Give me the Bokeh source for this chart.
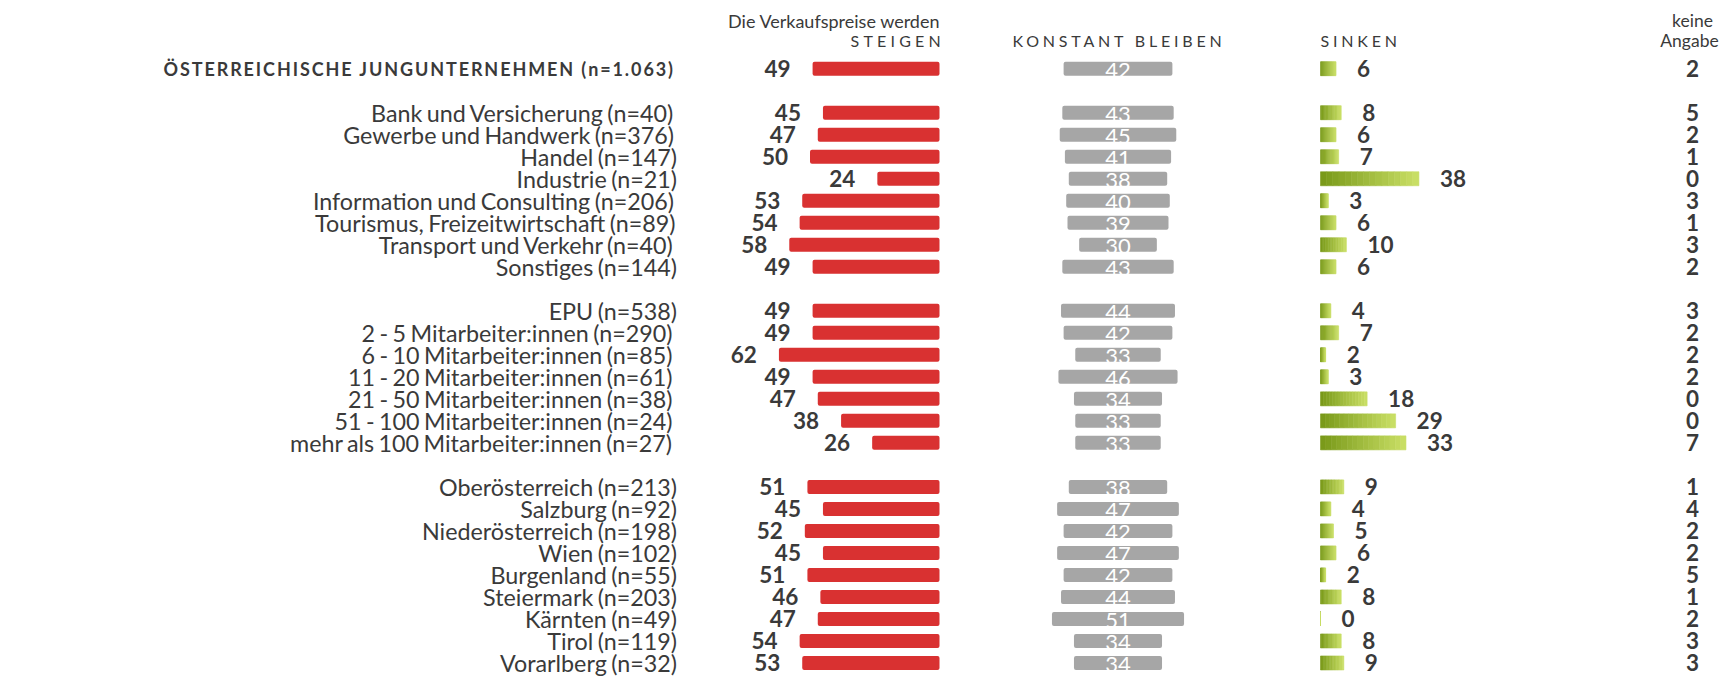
from bokeh.plotting import figure
from bokeh.models import Range1d, ColumnDataSource, InlineStyleSheet
from bokeh.layouts import column, row
from bokeh.core.properties import value
from bokeh.embed import file_html
from bokeh.resources import INLINE

# ---------------- data ----------------
labels = [
    "ÖSTERREICHISCHE JUNGUNTERNEHMEN (n=1.063)",
    "Bank und Versicherung (n=40)",
    "Gewerbe und Handwerk (n=376)",
    "Handel (n=147)",
    "Industrie (n=21)",
    "Information und Consulting (n=206)",
    "Tourismus, Freizeitwirtschaft (n=89)",
    "Transport und Verkehr (n=40)",
    "Sonstiges (n=144)",
    "EPU (n=538)",
    "2 - 5 Mitarbeiter:innen (n=290)",
    "6 - 10 Mitarbeiter:innen (n=85)",
    "11 - 20 Mitarbeiter:innen (n=61)",
    "21 - 50 Mitarbeiter:innen (n=38)",
    "51 - 100 Mitarbeiter:innen (n=24)",
    "mehr als 100 Mitarbeiter:innen (n=27)",
    "Oberösterreich (n=213)",
    "Salzburg (n=92)",
    "Niederösterreich (n=198)",
    "Wien (n=102)",
    "Burgenland (n=55)",
    "Steiermark (n=203)",
    "Kärnten (n=49)",
    "Tirol (n=119)",
    "Vorarlberg (n=32)",
]
steigen = [49, 45, 47, 50, 24, 53, 54, 58, 49, 49, 49, 62, 49, 47, 38, 26, 51, 45, 52, 45, 51, 46, 47, 54, 53]
konstant = [42, 43, 45, 41, 38, 40, 39, 30, 43, 44, 42, 33, 46, 34, 33, 33, 38, 47, 42, 47, 42, 44, 51, 34, 34]
sinken = [6, 8, 6, 7, 38, 3, 6, 10, 6, 4, 7, 2, 3, 18, 29, 33, 9, 4, 5, 6, 2, 8, 0, 8, 9]
keine = [2, 5, 2, 1, 0, 3, 1, 3, 2, 3, 2, 2, 2, 0, 0, 7, 1, 4, 2, 2, 5, 1, 2, 3, 3]
group_sizes = [1, 8, 7, 9]

header_intro = "Die Verkaufspreise werden"
header_cols = ["STEIGEN", "KONSTANT BLEIBEN", "SINKEN"]
header_keine = ["keine", "Angabe"]

# ---------------- style / layout ----------------
FONT = "Lato"
TXT = "#3a3a3a"
RED = "#d93131"
GREY = "#a6a6a6"
G_DARK = (122, 154, 26)
G_LIGHT = (200, 222, 100)

PX = 2.59            # pixels per percentage point
RED_ZERO = 939.0
GREY_CENTER = 1117.5
GREEN_ZERO = 1320.0
LABEL_RIGHT = 678.0
KEINE_X = 1692.0
ROW0_Y = 68.2
PITCH = 22.01
BAR_H = 14.0 / PITCH
NUM_SIZE = "22.5px"
GREY_NUM_SIZE = "22px"
LABEL_SIZE = "23.3px"
HEAD_SIZE = "18px"
KEINE_HEAD_SIZE = "17.5px"
CAPS_SIZE = "16px"

slots = []
s = 0
for n in group_sizes:
    for _ in range(n):
        slots.append(s)
        s += 1
    s += 1


def sy(screen_y):
    return (screen_y - ROW0_Y) / PITCH


def make_fig(X0, Y0, X1, Y1, css=None):
    p = figure(width=int(X1 - X0), height=int(Y1 - Y0),
               x_range=Range1d(X0, X1),
               y_range=Range1d(sy(Y1), sy(Y0)),
               output_backend="svg", toolbar_location=None,
               min_border=0, x_axis_type=None, y_axis_type=None,
               outline_line_color=None, background_fill_color="white",
               border_fill_color="white")
    p.grid.visible = False
    p.extra_x_ranges = {
        name: Range1d(-(A - X0) / PX, (X1 - A) / PX)
        for name, A in [("red", RED_ZERO), ("grey", GREY_CENTER), ("green", GREEN_ZERO)]
    }
    if css is not None:
        p.stylesheets = [InlineStyleSheet(css=":host { %s }" % css)]
    return p


def lerp_color(t):
    c = [round(G_DARK[j] + (G_LIGHT[j] - G_DARK[j]) * t) for j in range(3)]
    return "#%02x%02x%02x" % tuple(c)


def draw_rows(p, idx, with_labels=True):
    src = ColumnDataSource(dict(
        y=[slots[i] for i in idx],
        lab=[labels[i] for i in idx],
        st_neg=[-steigen[i] for i in idx],
        st_txt=[str(steigen[i]) for i in idx],
        ko_l=[-konstant[i] / 2 for i in idx],
        ko_r=[konstant[i] / 2 for i in idx],
        ko_txt=[str(konstant[i]) for i in idx],
        si=[sinken[i] for i in idx],
        si_txt=[str(sinken[i]) for i in idx],
        ke_txt=[str(keine[i]) for i in idx],
    ))
    num_kw = dict(text_font=value(FONT), text_baseline="middle", source=src)
    # steigen
    p.hbar(y="y", left="st_neg", right=0, height=BAR_H, x_range_name="red",
           fill_color=RED, line_color=None, border_radius=2, source=src)
    p.text(x="st_neg", y="y", text="st_txt", x_range_name="red", x_offset=-22,
           text_align="right", text_font_style="bold", text_color=TXT,
           text_font_size=NUM_SIZE, **num_kw)
    # konstant
    p.hbar(y="y", left="ko_l", right="ko_r", height=BAR_H, x_range_name="grey",
           fill_color=GREY, line_color=None, border_radius=2, source=src)
    p.text(x=0, y="y", text="ko_txt", x_range_name="grey", y_offset=1.5,
           text_align="center", text_color="white", text_font_size=GREY_NUM_SIZE, **num_kw)
    # sinken (gradient via slices)
    N = 16
    gl, gr, gy, gc = [], [], [], []
    for i in idx:
        v = sinken[i]
        for k in range(N):
            gl.append(v * k / N)
            gr.append(v * (k + 1) / N)
            gy.append(slots[i])
            gc.append(lerp_color(k / (N - 1)))
    p.hbar(y=gy, left=gl, right=gr, height=BAR_H, x_range_name="green",
           fill_color=gc, line_color=gc, line_width=0.6)
    p.text(x="si", y="y", text="si_txt", x_range_name="green", x_offset=21,
           text_align="left", text_font_style="bold", text_color=TXT,
           text_font_size=NUM_SIZE, **num_kw)
    # keine Angabe
    p.text(x=KEINE_X, y="y", text="ke_txt", text_align="center",
           text_font_style="bold", text_color=TXT, text_font_size=NUM_SIZE, **num_kw)
    if with_labels:
        p.text(x=LABEL_RIGHT, y="y", text="lab", text_align="right",
               text_font=value(FONT), text_font_size=LABEL_SIZE,
               text_baseline="middle", text_color=TXT, source=src)


txt_kw = dict(text_baseline="middle", text_font=value(FONT), text_color=TXT)

# header line 1 (normal)
h1 = make_fig(0, 0, 1726, 31)
h1.text(x=[940], y=[sy(20)], text=[header_intro], text_align="right",
        text_font_size=HEAD_SIZE, **txt_kw)
h1.text(x=[KEINE_X], y=[sy(20)], text=[header_keine[0]], text_align="center",
        text_font_size=KEINE_HEAD_SIZE, **txt_kw)

# header line 2 (letter-spaced column titles + "Angabe")
h2s = make_fig(0, 31, 975, 53, css="letter-spacing: 4.2px;")
h2s.text(x=[850], y=[sy(39.5)], text=[header_cols[0]], text_align="left",
         text_font_size=CAPS_SIZE, **txt_kw)
h2k = make_fig(975, 31, 1640, 53, css="letter-spacing: 3.8px;")
h2k.text(x=[1012, 1320], y=[sy(39.5)] * 2, text=header_cols[1:], text_align="left",
         text_font_size=CAPS_SIZE, **txt_kw)
h2b = make_fig(1640, 31, 1726, 53)
h2b.text(x=[KEINE_X - 3], y=[sy(40)], text=[header_keine[1]], text_align="center",
         text_font_size=KEINE_HEAD_SIZE, **txt_kw)

# title row
t = make_fig(0, 53, 700, 88, css="letter-spacing: 1.9px;")
t.text(x=[163], y=[slots[0]], text=[labels[0]], text_align="left",
       text_font_size="18px", text_font_style="bold", **txt_kw)
r0 = make_fig(700, 53, 1726, 88)
draw_rows(r0, [0], with_labels=False)

# body
body = make_fig(0, 88, 1726, 677, css="word-spacing: -1.5px;")
draw_rows(body, list(range(1, len(labels))))

layout = column(h1, row(h2s, h2k, h2b, spacing=0), row(t, r0, spacing=0), body, spacing=0)

open("out.html", "w").write(file_html(layout, INLINE))
